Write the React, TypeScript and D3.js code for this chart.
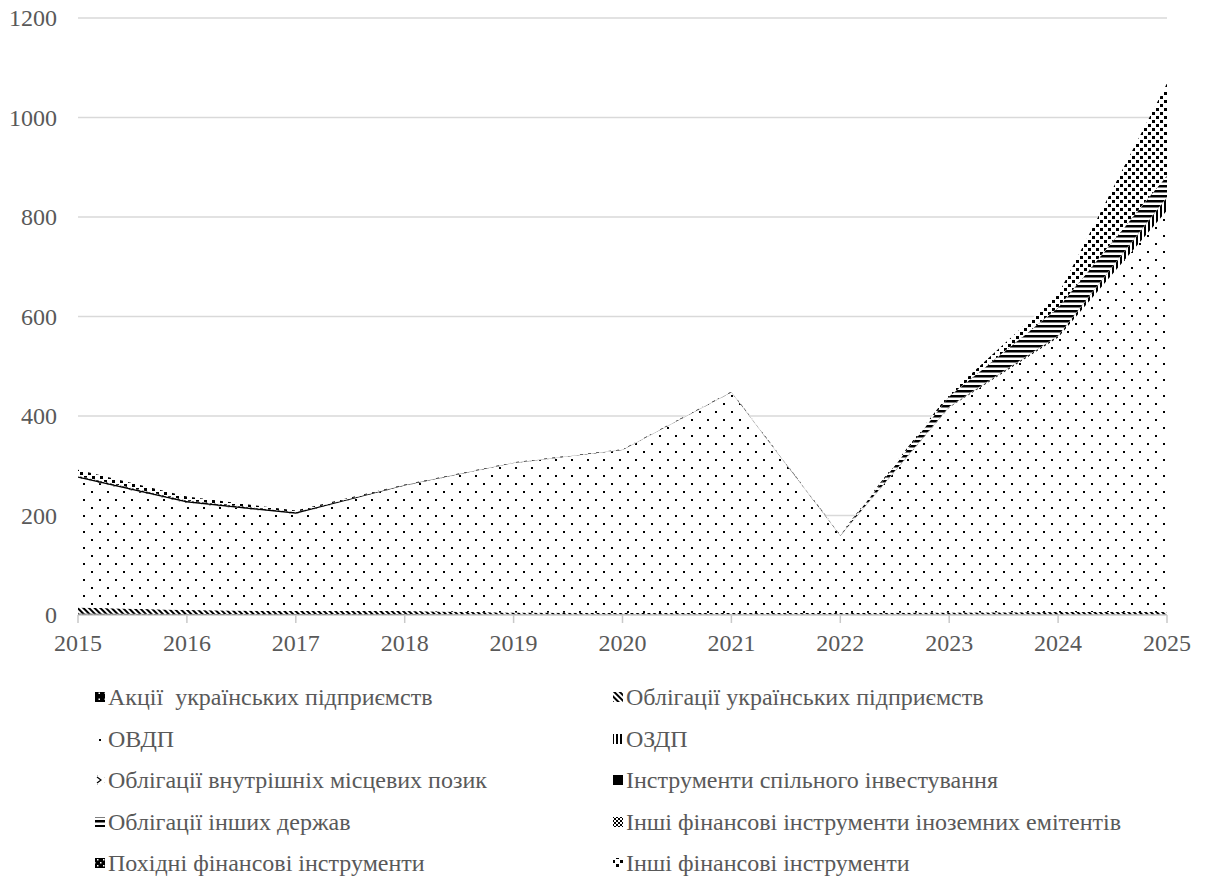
import React from "react";
import * as d3 from "d3";

// Years on the horizontal axis
const years = [2015, 2016, 2017, 2018, 2019, 2020, 2021, 2022, 2023, 2024, 2025];

// Series values by year (stack order, bottom to top)
const aktsii = [3, 2, 2, 2, 1, 1, 1, 1, 1, 1, 1];
const oblUkrPidpr = [12, 8, 6, 6, 4, 3, 3, 3, 4, 5, 5];
const ovdp = [260, 215, 195, 252, 300, 327, 443, 155, 412, 552, 807];
const ozdp = [0, 0, 0, 0, 0, 0, 0, 0, 1, 3, 26];
const oblMistsevykh = [1, 1, 0.5, 0.5, 0.5, 0.5, 0.5, 0.5, 0.5, 0.5, 0.5];
const instrSpilnoho = [3, 3, 3, 1, 0.5, 0.5, 0.5, 0.5, 0.5, 0.5, 0.5];
const oblInshykhDerzhav = [0, 0, 0, 0, 0, 0, 0, 1, 20, 55, 43];
const inshiInozemnykh = [1, 1, 0.5, 0, 0, 0, 0, 0, 0.5, 1, 1];
const pokhidni = [0, 0, 0, 0, 0, 0, 0, 0, 0, 0, 0];
const inshiFinansovi = [12, 8, 3, 1, 1, 1, 1, 1, 5, 26, 185];

const seriesNames = [
  "Акції  українських підприємств",
  "Облігації українських підприємств",
  "ОВДП",
  "ОЗДП",
  "Облігації внутрішніх місцевих позик",
  "Інструменти спільного інвестування",
  "Облігації інших держав",
  "Інші фінансові інструменти іноземних емітентів",
  "Похідні фінансові інструменти",
  "Інші фінансові інструменти",
];
const seriesValues = [
  aktsii,
  oblUkrPidpr,
  ovdp,
  ozdp,
  oblMistsevykh,
  instrSpilnoho,
  oblInshykhDerzhav,
  inshiInozemnykh,
  pokhidni,
  inshiFinansovi,
];

const yTicks = [0, 200, 400, 600, 800, 1000, 1200];

const W = 1207;
const H = 879;
const TEXT = "#595959";
const FONT = "'Liberation Serif', 'Times New Roman', Times, 'DejaVu Serif', serif";

function Patterns() {
  return (
    <defs>
      <pattern id="p0" width="6" height="6" patternUnits="userSpaceOnUse">
        <rect width="6" height="6" fill="#000" />
        <rect x="2.5" y="2.5" width="1.5" height="1.5" fill="#fff" />
      </pattern>
      <pattern id="p1" width="4" height="4" patternUnits="userSpaceOnUse" patternTransform="rotate(-45)">
        <rect width="4" height="4" fill="#fff" />
        <rect width="2" height="4" fill="#000" />
      </pattern>
      <pattern id="p2" width="16" height="16" patternUnits="userSpaceOnUse">
        <rect width="16" height="16" fill="#fff" />
        <rect x="3" y="3" width="2" height="2" fill="#000" />
        <rect x="11" y="11" width="2" height="2" fill="#000" />
      </pattern>
      <pattern id="p3" width="4" height="4" patternUnits="userSpaceOnUse">
        <rect width="4" height="4" fill="#fff" />
        <rect width="2" height="4" fill="#000" />
      </pattern>
      <pattern id="p4" width="8" height="8" patternUnits="userSpaceOnUse">
        <rect width="8" height="8" fill="#fff" />
        <path d="M1,1 L5,4 L1,7" stroke="#000" strokeWidth="1.2" fill="none" />
      </pattern>
      <pattern id="p5" width="4" height="4" patternUnits="userSpaceOnUse">
        <rect width="4" height="4" fill="#000" />
      </pattern>
      <pattern id="p6" width="5" height="5" patternUnits="userSpaceOnUse">
        <rect width="5" height="5" fill="#fff" />
        <rect width="5" height="2.5" fill="#000" />
      </pattern>
      <pattern id="p7" width="4" height="4" patternUnits="userSpaceOnUse">
        <rect width="4" height="4" fill="#fff" />
        <rect width="2" height="2" fill="#000" />
        <rect x="2" y="2" width="2" height="2" fill="#000" />
      </pattern>
      <pattern id="p8" width="6" height="6" patternUnits="userSpaceOnUse">
        <rect width="6" height="6" fill="#000" />
        <rect x="1" y="1" width="1.5" height="1.5" fill="#fff" />
        <rect x="4" y="4" width="1.5" height="1.5" fill="#fff" />
      </pattern>
      <pattern id="p9" width="8" height="8" patternUnits="userSpaceOnUse">
        <rect width="8" height="8" fill="#fff" />
        <rect x="0" y="0" width="3" height="3" fill="#000" />
        <rect x="4" y="4" width="3" height="3" fill="#000" />
      </pattern>
    </defs>
  );
}

const textStyle: React.CSSProperties = {
  fontFamily: FONT,
  fill: TEXT,
  whiteSpace: "pre",
};

export default function App() {
  const x = d3.scaleLinear().domain([2015, 2025]).range([78, 1167]);
  const y = d3.scaleLinear().domain([0, 1200]).range([615, 18]);

  const keys = seriesNames.map((_, i) => "s" + i);
  const rows = years.map((yr, j) => {
    const r: Record<string, number> = { year: yr };
    keys.forEach((k, i) => (r[k] = seriesValues[i][j]));
    return r;
  });
  const stacked = d3.stack<Record<string, number>>().keys(keys)(rows);

  const area = d3
    .area<d3.SeriesPoint<Record<string, number>>>()
    .x((d) => x(d.data.year))
    .y0((d) => y(d[0]))
    .y1((d) => y(d[1]));

  const legendRowsY = [697, 739, 780, 822, 863];
  const legendColX = [95, 613];

  return (
    <div style={{ position: "absolute", left: 0, top: 0, fontFamily: FONT }}>
      <svg width={W} height={H} style={{ display: "block", background: "#fff" }}>
        <Patterns />
        {/* horizontal gridlines and value labels */}
        {yTicks.map((t) => (
          <g key={t}>
            {t > 0 && (
              <line x1={78} x2={1167} y1={y(t)} y2={y(t)} stroke="#d9d9d9" strokeWidth={1.5} />
            )}
            <text
              x={57}
              y={y(t)}
              textAnchor="end"
              dominantBaseline="central"
              style={{ ...textStyle, fontSize: 24 }}
            >
              {t}
            </text>
          </g>
        ))}
        {/* stacked areas */}
        {stacked.map((s, i) => (
          <path key={s.key} d={area(s) || ""} fill={`url(#p${i})`} />
        ))}
        {/* category axis */}
        <line x1={78} x2={1167} y1={y(0)} y2={y(0)} stroke="#c9c9c9" strokeWidth={1.5} />
        {years.map((yr) => (
          <g key={yr}>
            <line x1={x(yr)} x2={x(yr)} y1={y(0)} y2={y(0) + 8} stroke="#c9c9c9" strokeWidth={1.5} />
            <text
              x={x(yr)}
              y={643}
              textAnchor="middle"
              dominantBaseline="central"
              style={{ ...textStyle, fontSize: 24 }}
            >
              {yr}
            </text>
          </g>
        ))}
        {/* legend */}
        {seriesNames.map((name, i) => {
          const cx = legendColX[i % 2];
          const cy = legendRowsY[Math.floor(i / 2)];
          return (
            <g key={name}>
              <rect x={cx} y={cy - 5} width={10} height={10} fill={`url(#p${i})`} />
              <text x={cx + 13} y={cy} dominantBaseline="central" style={{ ...textStyle, fontSize: 24 }}>
                {name}
              </text>
            </g>
          );
        })}
      </svg>
    </div>
  );
}
